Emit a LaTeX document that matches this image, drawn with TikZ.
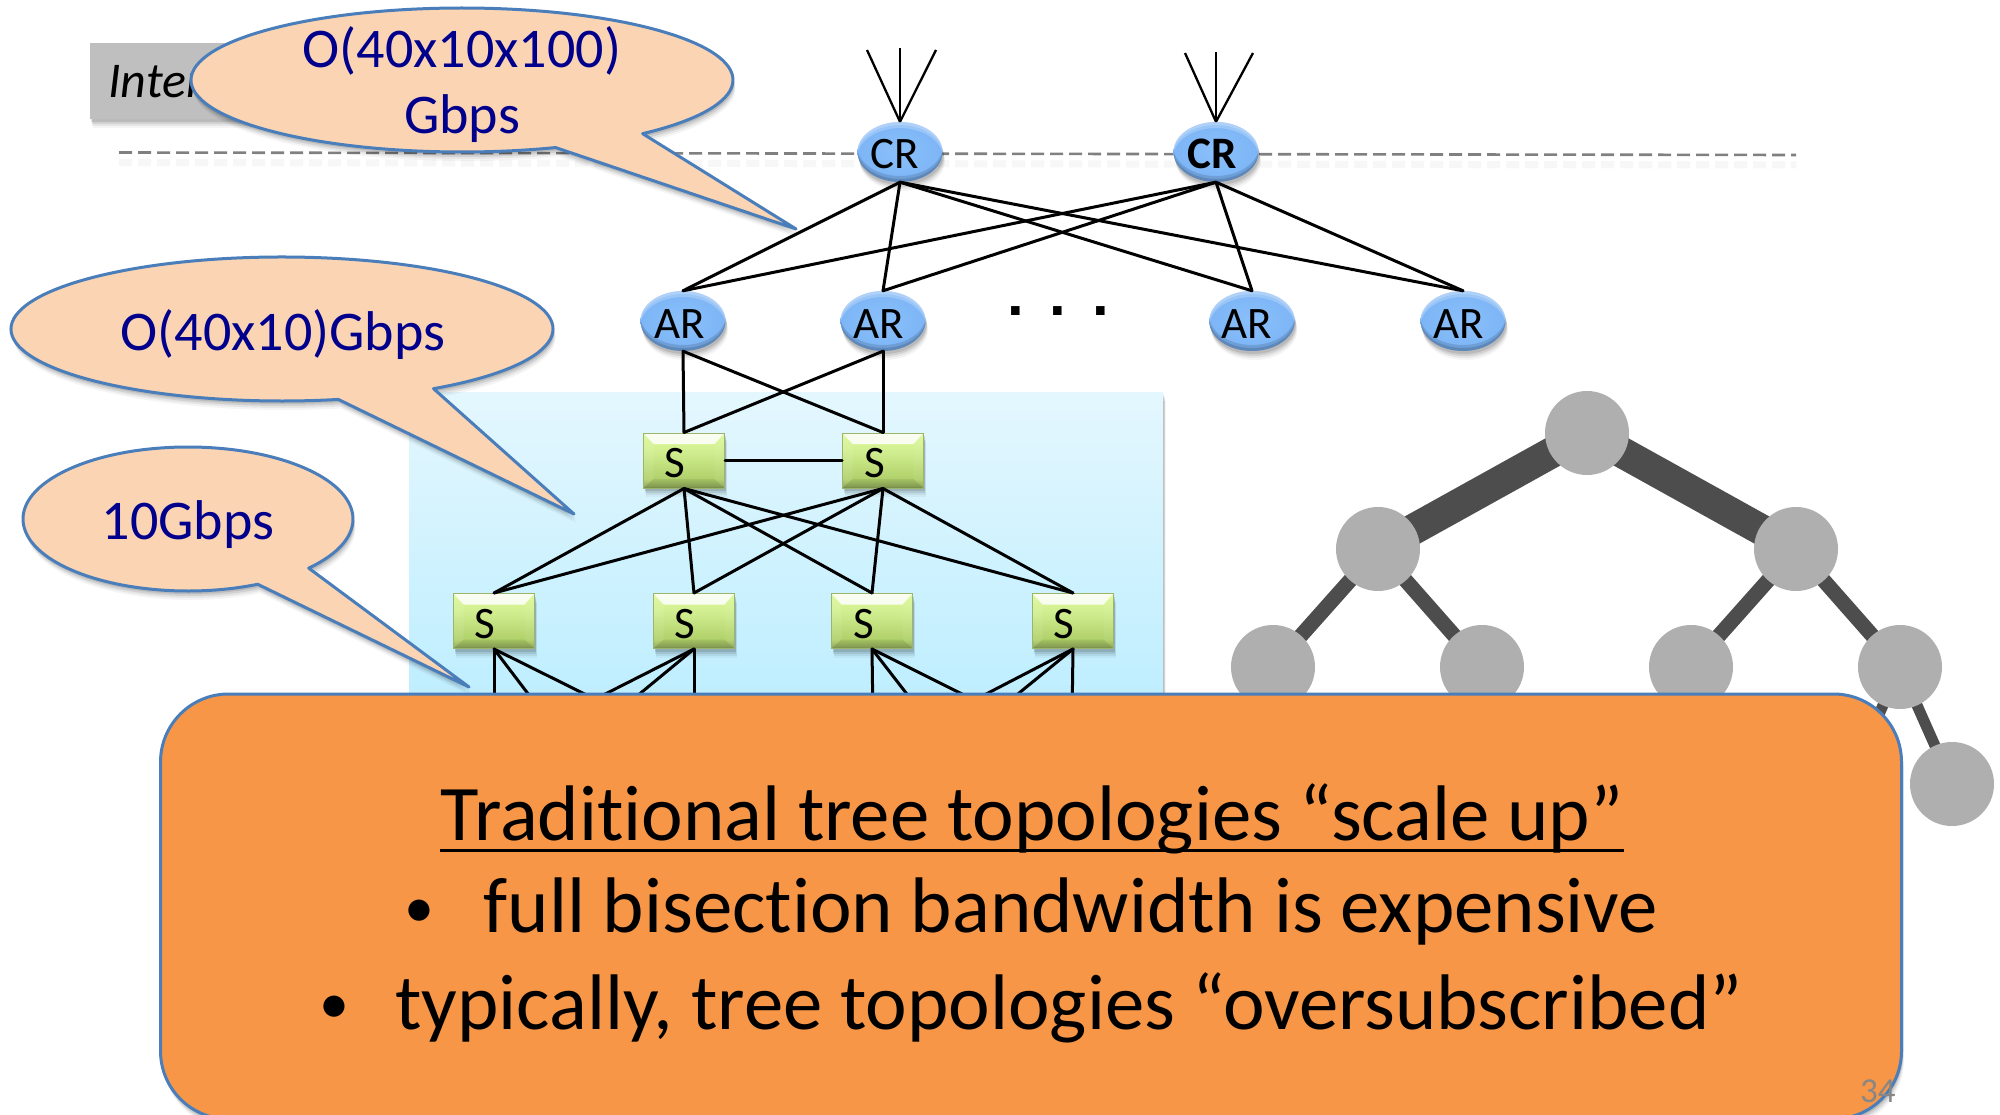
\documentclass[tikz,border=0pt]{standalone}
\usepackage{fontspec}
\setmainfont[RawFeature={-liga;-clig}]{Carlito}
\newfontfamily\dotfont{Liberation Sans}
\usetikzlibrary{shapes.geometric,shadows,calc}
\definecolor{navytext}{RGB}{0,0,140}
\definecolor{bubblefill}{RGB}{251,212,180}
\definecolor{bubbleline}{RGB}{74,126,187}
\definecolor{orangefill}{RGB}{247,150,70}
\definecolor{treenode}{RGB}{175,175,175}
\definecolor{treeedge}{RGB}{77,77,77}
\definecolor{grayboxc}{RGB}{191,191,191}
\definecolor{areatop}{RGB}{228,247,254}
\definecolor{areabot}{RGB}{190,238,255}
\definecolor{ball0}{RGB}{138,192,250}
\definecolor{ball1}{RGB}{122,178,245}
\definecolor{ball2}{RGB}{98,158,232}
\definecolor{ball3}{RGB}{84,142,220}
\definecolor{sw0}{RGB}{120,146,76}
\definecolor{sw1}{RGB}{145,170,90}
\definecolor{sw2}{RGB}{176,208,106}
\definecolor{sw3}{RGB}{208,238,143}
\definecolor{sw4}{RGB}{222,250,156}
\definecolor{swline}{RGB}{156,181,106}
\pgfdeclareradialshading{ballshade}{\pgfpoint{0bp}{0bp}}{
 color(0bp)=(ball0); color(30bp)=(ball1); color(43bp)=(ball2); color(50bp)=(ball3); color(100bp)=(ball3)}
\pgfdeclareverticalshading{switchshade}{100bp}{
 color(0bp)=(sw0); color(25bp)=(sw0); color(27bp)=(sw1); color(33bp)=(sw2);
 color(58bp)=(sw3); color(75bp)=(sw4); color(100bp)=(sw4)}
\tikzset{
 softshadow/.style={
  general shadow={fill=black,opacity=.04,shadow xshift=2.5pt,shadow yshift=-9pt},
  general shadow={fill=black,opacity=.06,shadow xshift=2pt,shadow yshift=-7pt},
  general shadow={fill=black,opacity=.09,shadow xshift=1.5pt,shadow yshift=-5pt},
  general shadow={fill=black,opacity=.11,shadow xshift=1pt,shadow yshift=-3pt}},
 router/.style={ellipse,minimum width=85pt,minimum height=60pt,inner sep=0pt,
  shading=ballshade,softshadow,text height=34pt,text depth=0pt,
  font=\fontsize{45}{45}\selectfont,text=black,
  path picture={
   \coordinate (cc) at (path picture bounding box.center);
   \fill[white,opacity=.22,even odd rule] ([shift={(-60pt,-50pt)}]cc) rectangle ([shift={(60pt,50pt)}]cc) ([yshift=-3pt]cc) ellipse[x radius=43pt,y radius=30pt];
   \fill[white,opacity=.22,even odd rule] ([shift={(-60pt,-50pt)}]cc) rectangle ([shift={(60pt,50pt)}]cc) ([yshift=-6pt]cc) ellipse[x radius=43pt,y radius=30pt];
   \fill[black,opacity=.13,even odd rule] ([shift={(-60pt,-50pt)}]cc) rectangle ([shift={(60pt,50pt)}]cc) ([yshift=3pt]cc) ellipse[x radius=43pt,y radius=30pt];
   \fill[black,opacity=.13,even odd rule] ([shift={(-60pt,-50pt)}]cc) rectangle ([shift={(60pt,50pt)}]cc) ([yshift=6pt]cc) ellipse[x radius=43pt,y radius=30pt];
  }},
 switchbox/.style={rectangle,minimum width=81pt,minimum height=55pt,inner sep=0pt,
  shading=switchshade,softshadow,text height=34pt,text depth=0pt,
  font=\fontsize{45}{45}\selectfont,text=black,
  path picture={
   \coordinate (nw) at (path picture bounding box.north west);
   \coordinate (ne) at (path picture bounding box.north east);
   \coordinate (sw) at (path picture bounding box.south west);
   \coordinate (se) at (path picture bounding box.south east);
   \fill[white,opacity=.85] (nw) -- (ne) -- ([shift={(-10pt,-11pt)}]ne) -- ([shift={(10pt,-11pt)}]nw) -- cycle;
   \fill[white,opacity=.08] (nw) -- ([shift={(10pt,-11pt)}]nw) -- ([shift={(10pt,9pt)}]sw) -- (sw) -- cycle;
   \fill[white,opacity=.05] (ne) -- ([shift={(-10pt,-11pt)}]ne) -- ([shift={(-10pt,9pt)}]se) -- (se) -- cycle;
   \fill[black,opacity=.07] (sw) -- ([shift={(10pt,9pt)}]sw) -- ([shift={(-10pt,9pt)}]se) -- (se) -- cycle;
  },
  draw=swline,line width=1pt},
 link/.style={draw=black,line width=3pt,line cap=round},
 thinlink/.style={draw=black,line width=2.3pt},
 bubble/.style={fill=bubblefill,draw=bubbleline,line width=3pt,line join=round,softshadow},
 bubbletext/.style={anchor=base,inner sep=0pt,text=navytext,font=\fontsize{56}{56}\selectfont},
 treedot/.style={circle,fill=treenode,minimum size=84pt,inner sep=0pt},
 bigtext/.style={anchor=base,inner sep=0pt,text=black,font=\fontsize{78.8}{78.8}\selectfont},
 bullettext/.style={anchor=base,inner sep=0pt,text=black,font=\fontsize{60}{60}\selectfont},
}
\newcommand{\speechbubble}[8]{%
 \path[bubble] ({#1+#3*cos(#5)},{#2-#4*sin(#5)}) arc[start angle=#5,end angle=#6,x radius=#3pt,y radius=#4pt] -- (#7,#8) -- cycle;}
\begin{document}
\begin{tikzpicture}[x=1pt,y=-1pt]
\useasboundingbox (0,0) rectangle (2000,1115);
\fill[white] (0,0) rectangle (2000,1115);
% tree at right
\coordinate (p0) at (1587,433);
\coordinate (p1) at (1378,549);
\coordinate (p2) at (1796,549);
\coordinate (p3) at (1273,667);
\coordinate (p4) at (1482,667);
\coordinate (p5) at (1691,667);
\coordinate (p6) at (1900,667);
\coordinate (p7) at (1952,784);
\coordinate (p8) at (1848,784);
\draw[treeedge,line width=31pt] (p0) -- (p1);
\draw[treeedge,line width=31pt] (p0) -- (p2);
\draw[treeedge,line width=15pt] (p1) -- (p3);
\draw[treeedge,line width=15pt] (p1) -- (p4);
\draw[treeedge,line width=15pt] (p2) -- (p5);
\draw[treeedge,line width=15pt] (p2) -- (p6);
\draw[treeedge,line width=11pt] (p6) -- (p7);
\draw[treeedge,line width=11pt] (p6) -- (p8);
\node[treedot] (t0) at (p0) {};
\node[treedot] (t1) at (p1) {};
\node[treedot] (t2) at (p2) {};
\node[treedot] (t3) at (p3) {};
\node[treedot] (t4) at (p4) {};
\node[treedot] (t5) at (p5) {};
\node[treedot] (t6) at (p6) {};
\node[treedot] (t7) at (p7) {};
% internet box
\node[anchor=north west,minimum width=160pt,minimum height=76pt,inner sep=0pt,fill=grayboxc,softshadow] (ibox) at (90,43) {};
\node[anchor=base west,inner sep=0pt,font=\fontsize{50}{50}\selectfont\itshape] (inet) at (108,98) {Internet};
% dashed line
\coordinate (dl) at (119,152.5);
\coordinate (dr) at (1796,155);
\draw[black!3,line width=7pt,dash pattern=on 13pt off 6pt] ([yshift=-10pt]dl) -- ([yshift=-10pt]dr);
\draw[black!50,line width=2.6pt,dash pattern=on 13pt off 6pt] (dl) -- (dr);
% blue area
\node[anchor=north west,minimum width=754pt,minimum height=310pt,inner sep=0pt,
 top color=areatop,bottom color=areabot,softshadow] (area) at (409,392) {};
% routers
\node[router] (cr1) at (900,152) {CR\hspace*{11pt}};
\node[router,font=\fontsize{45}{45}\selectfont\bfseries] (cr2) at (1216,152) {CR\hspace*{8pt}};
\node[router] (ar1) at (683,321) {AR\hspace*{7pt}};
\node[router] (ar2) at (883,321) {AR\hspace*{9pt}};
\node[router] (ar3) at (1252,321) {AR\hspace*{10pt}};
\node[router] (ar4) at (1463,321) {AR\hspace*{8pt}};
\node[anchor=base,inner sep=0pt,font=\dotfont\bfseries\fontsize{60}{60}\selectfont] (dots) at (1058,316) {.\hspace{26pt}.\hspace{26pt}.};
% switches
\node[switchbox] (s1) at (684,460.5) {S\hspace*{18pt}};
\node[switchbox] (s2) at (883,460.5) {S\hspace*{16pt}};
\node[switchbox] (s3) at (494,621) {S\hspace*{18pt}};
\node[switchbox] (s4) at (694,621) {S\hspace*{18pt}};
\node[switchbox] (s5) at (872,621) {S\hspace*{16pt}};
\node[switchbox] (s6) at (1073,621) {S\hspace*{18pt}};
% antennas
\coordinate (a1) at (867,50); \coordinate (a2) at (900,48); \coordinate (a3) at (936,50);
\coordinate (a4) at (1185,53); \coordinate (a5) at (1216,52); \coordinate (a6) at (1253,53);
\foreach \a in {a1,a2,a3} \draw[thinlink] (cr1.north) -- (\a);
\foreach \a in {a4,a5,a6} \draw[thinlink] (cr2.north) -- (\a);
% core links
\foreach \c in {cr1,cr2} \foreach \a in {ar1,ar2,ar3,ar4} \draw[link] (\c.south) -- (\a.north);
\foreach \a in {ar1,ar2} \foreach \s in {s1,s2} \draw[link] (\a.south) -- (\s.north);
\draw[link] (s1.east) -- (s2.west);
\foreach \a in {s1,s2} \foreach \s in {s3,s4,s5,s6} \draw[link] (\a.south) -- (\s.north);
% links going under the box
\coordinate (e1) at (494,720); \coordinate (e2) at (548,720); \coordinate (e3) at (637,720);
\coordinate (e4) at (694,720); \coordinate (e5) at (608,720); \coordinate (e6) at (554,720);
\coordinate (e7) at (873,720); \coordinate (e8) at (927,720); \coordinate (e9) at (1014,720);
\coordinate (e10) at (1072,720); \coordinate (e11) at (986,720); \coordinate (e12) at (936,720);
\foreach \e in {e1,e2,e3} \draw[link] (s3.south) -- (\e);
\foreach \e in {e4,e5,e6} \draw[link] (s4.south) -- (\e);
\foreach \e in {e7,e8,e9} \draw[link] (s5.south) -- (\e);
\foreach \e in {e10,e11,e12} \draw[link] (s6.south) -- (\e);
% bubbles
\speechbubble{462}{80}{271}{72}{-48.2}{290.2}{796}{229}
\node[bubbletext] (b1a) at (462,68) {O(40x10x100)};
\node[bubbletext] (b1b) at (462,134) {Gbps};
\speechbubble{282}{329}{271}{72}{-56}{282}{574}{514}
\node[bubbletext] (b2) at (283,350) {O(40x10)Gbps};
\speechbubble{188}{519}{165}{72}{-43}{295}{469}{687}
\node[bubbletext] (b3) at (188,539) {10Gbps};
% orange box
\node[anchor=north west,rectangle,rounded corners=68pt,minimum width=1741pt,minimum height=425pt,inner sep=0pt,
 fill=orangefill,draw=bubbleline,line width=3pt,softshadow] (obox) at (159,692.5) {};
\node[bigtext] (l1) at (1032,840) {Traditional tree topologies “scale up”};
\draw[black,line width=3pt] ([yshift=-10pt]l1.base west) -- ([yshift=-10pt]l1.base east);
\node[bullettext] (bu1) at (419,927) {•};
\node[bigtext] (l2) at (1071,932) {full bisection bandwidth is expensive};
\node[bullettext] (bu2) at (334,1023) {•};
\node[bigtext] (l3) at (1069,1029) {typically, tree topologies “oversubscribed”};
\node[anchor=base west,inner sep=0pt,text=black!47,font=\fontsize{35}{35}\selectfont] (pg) at (1860,1102) {34};
\end{tikzpicture}
\end{document}
